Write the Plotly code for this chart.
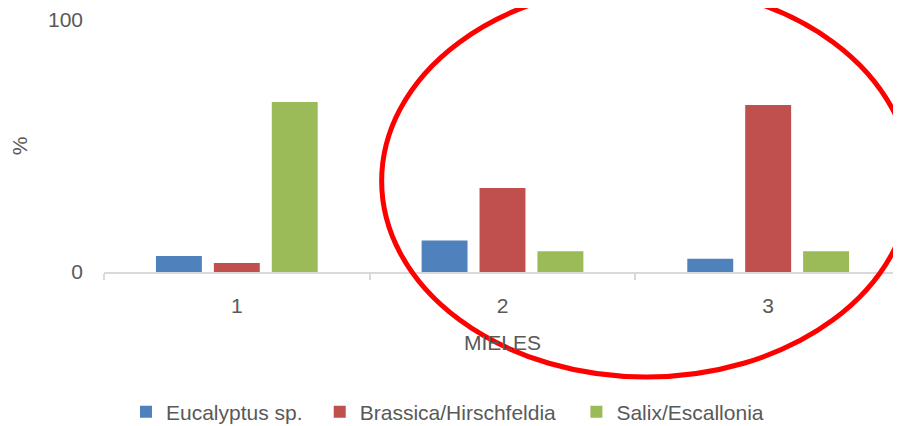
import plotly.graph_objects as go

categories = ["1", "2", "3"]
series_names = ["Eucalyptus sp.", "Brassica/Hirschfeldia", "Salix/Escallonia"]
eucalyptus = [6.3, 12.5, 5.3]
brassica = [3.6, 33.3, 66.3]
salix = [67.5, 8.2, 8.2]
y_ticks = [0, 100]

colors = ["#4F81BD", "#C0504D", "#9BBB59"]
FONT = "Liberation Sans"
TXT = "#595959"
FS = 21

# page body has an 8px margin: work in screen pixels, convert to figure pixels
OFF = 8
W, H = 901 - OFF, 426 - OFF
PL, PR, PT, PB = 104 - OFF, 902 - OFF, 20 - OFF, 272 - OFF

def px_x(p):
    return (p - OFF - PL) / (PR - PL)

def px_y(p):
    return (PB - (p - OFF)) / (PB - PT)

legend_ids = ["legend", "legend2", "legend3"]
legend_text_x = [166, 360, 617]

fig = go.Figure()
for name, vals, col, lid in zip(series_names, [eucalyptus, brassica, salix], colors, legend_ids):
    fig.add_trace(go.Bar(x=categories, y=vals, name=name, legend=lid,
                         marker=dict(color=col, line=dict(width=0))))

legend_common = dict(orientation="h", yanchor="middle", xanchor="left",
                     font=dict(size=FS, color=TXT, family=FONT), itemwidth=30,
                     bgcolor="rgba(0,0,0,0)", borderwidth=0)
layout_legends = {}
for lid, tx in zip(legend_ids, legend_text_x):
    layout_legends[lid] = dict(legend_common, x=px_x(tx - 40), y=px_y(412))

fig.update_layout(
    width=W, height=H,
    margin=dict(l=PL, r=max(W - PR, 0), t=PT, b=H - PB, autoexpand=False),
    paper_bgcolor="white", plot_bgcolor="white",
    barmode="group", bargap=0.346, bargroupgap=0.207,
    font=dict(family=FONT, size=FS, color=TXT),
    showlegend=True,
    xaxis=dict(type="category", showline=True, linecolor="#D9D9D9", linewidth=1.5,
               ticks="outside", tickson="boundaries", ticklen=6, tickcolor="#D9D9D9",
               tickwidth=1.5, showgrid=False, ticklabelstandoff=14, automargin=False,
               title=dict(text="MIELES", standoff=19, font=dict(size=FS, color=TXT))),
    yaxis=dict(range=[0, 100], tickvals=y_ticks, showgrid=False, zeroline=False,
               showline=False, ticks="", ticklabelstandoff=20, automargin=False,
               title=dict(text="%", standoff=14, font=dict(size=FS, color=TXT))),
    **layout_legends,
)

fig.add_shape(type="circle", xref="paper", yref="paper",
              x0=px_x(382), x1=px_x(912), y0=px_y(377), y1=px_y(-15),
              line=dict(color="#FF0000", width=5), fillcolor="rgba(0,0,0,0)")

fig.write_html("out.html")
